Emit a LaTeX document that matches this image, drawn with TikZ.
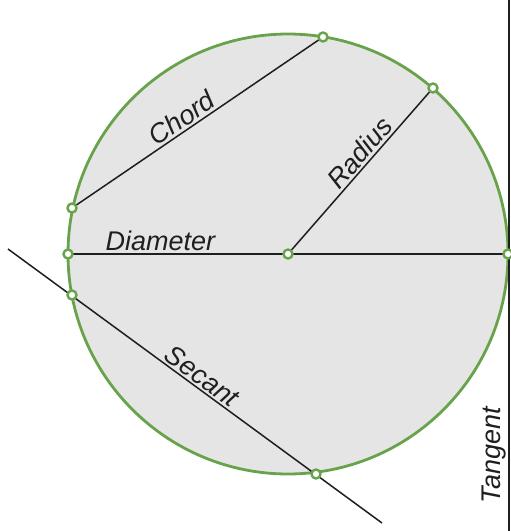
\documentclass[tikz,border=0pt]{standalone}
\usepackage{fontspec}
\setmainfont{Liberation Sans}
\definecolor{cgreen}{RGB}{104,163,76}
\definecolor{cfill}{RGB}{229,229,229}
\definecolor{cline}{RGB}{30,30,30}
\begin{document}
\begin{tikzpicture}[x=1pt,y=-1pt,
  dot/.style={circle,draw=cgreen,fill=white,line width=2.4pt,minimum size=9pt,inner sep=0pt},
  seg/.style={draw=cline,line width=1.5pt},
  lbl/.style={font=\fontsize{27}{30}\selectfont\itshape,text=black!88,inner sep=2pt}]
\useasboundingbox (0,0) rectangle (511,531);
\fill[white] (0,0) rectangle (511,531);
\coordinate (c) at (288,254);
\filldraw[fill=cfill,draw=cgreen,line width=2.8pt] (c) circle[radius=220];
\coordinate (t1) at (509,0);
\coordinate (t2) at (509,531);
\coordinate (s1) at (8,249);
\coordinate (s2) at (382,523);
% lines
\draw[seg] (t2) -- node[lbl,pos=0.142,sloped,above]{Tangent} (t1);
\draw[seg] (s1) -- node[lbl,pos=0.50,sloped,above]{Secant} (s2);
\draw[seg] (72,208) coordinate (ch1) -- node[lbl,pos=0.465,sloped,above]{Chord} (323,37) coordinate (ch2);
\draw[seg] (68,254) coordinate (d1) -- node[lbl,pos=0.21,above]{Diameter} (508,254) coordinate (d2);
\draw[seg] (c) -- node[lbl,pos=0.56,sloped,above]{Radius} (433,88) coordinate (r1);
% dots
\node[dot] (nch1) at (ch1) {};
\node[dot] (nch2) at (ch2) {};
\node[dot] (nd1) at (d1) {};
\node[dot] (nd2) at (d2) {};
\node[dot] (nc) at (c) {};
\node[dot] (nr1) at (r1) {};
\node[dot] (ns1) at (72,295) {};
\node[dot] (ns2) at (316,474) {};
\end{tikzpicture}
\end{document}
